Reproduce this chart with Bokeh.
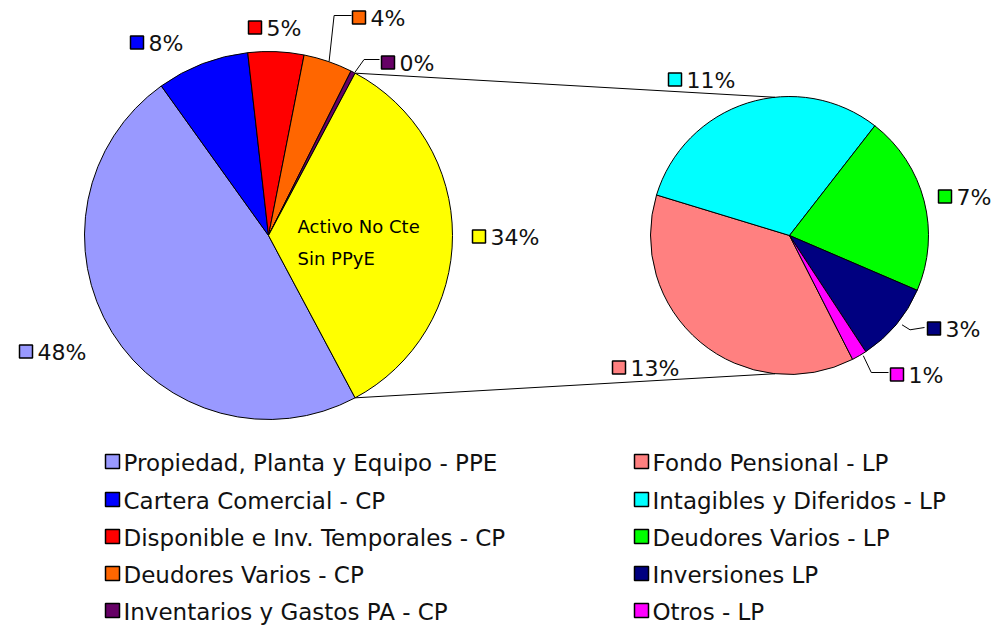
import numpy as np
from bokeh.plotting import figure
from bokeh.models import ColumnDataSource, Range1d
from bokeh.embed import file_html
from bokeh.resources import INLINE
from bokeh.core.properties import value

# ---------------- data ----------------
main_names = ["Propiedad, Planta y Equipo - PPE", "Cartera Comercial - CP",
              "Disponible e Inv. Temporales - CP", "Deudores Varios - CP",
              "Inventarios y Gastos PA - CP", "Activo No Cte Sin PPyE"]
main_values = [47.9, 8.1, 4.9, 4.3, 0.4, 34.4]
main_colors = ["#9999FF", "#0000FF", "#FF0000", "#FF6600", "#660066", "#FFFF00"]

sec_names = ["Fondo Pensional - LP", "Intagibles y Diferidos - LP",
             "Deudores Varios - LP", "Inversiones LP", "Otros - LP"]
sec_values = [12.8, 10.6, 7.2, 3.2, 0.6]
sec_colors = ["#FF8080", "#00FFFF", "#00FF00", "#000080", "#FF00FF"]

split_label = "Activo No Cte\nSin PPyE"

# ---------------- layout ----------------
W, H = 998, 627
def Y(py):  # picture y (down) -> data y (up)
    return H - py

C1 = (268, 235); R1 = 184
C2 = (789, 235); R2 = 139
SEC_START = np.deg2rad(297.0)   # rotation of the secondary pie
FONT = "DejaVu Sans"

p = figure(width=W, height=H, x_range=Range1d(0, W), y_range=Range1d(0, H),
           output_backend="svg", toolbar_location=None, min_border=0)
p.axis.visible = False
p.grid.visible = False
p.outline_line_color = None
p.background_fill_color = "white"

total = sum(main_values)
# main pie: split slice centred on the right, others clockwise from its lower edge
ang = [v / total * 2 * np.pi for v in main_values]
half = ang[-1] / 2
starts, ends = [], []
cur = -half
for a in ang[:-1]:
    ends.append(cur)
    starts.append(cur - a)
    cur -= a
starts.append(-half); ends.append(half)
src1 = ColumnDataSource(dict(start=starts, end=ends, color=main_colors))
p.wedge(x=C1[0], y=Y(C1[1]), radius=R1, start_angle="start", end_angle="end",
        fill_color="color", line_color="black", line_width=1, source=src1)

# secondary pie
stot = sum(sec_values)
sang = [v / stot * 2 * np.pi for v in sec_values]
s_starts, s_ends = [], []
cur = SEC_START
for a in sang:
    s_ends.append(cur)
    s_starts.append(cur - a)
    cur -= a
src2 = ColumnDataSource(dict(start=s_starts, end=s_ends, color=sec_colors))
p.wedge(x=C2[0], y=Y(C2[1]), radius=R2, start_angle="start", end_angle="end",
        fill_color="color", line_color="black", line_width=1, source=src2)

# connector lines
tx = C1[0] + R1 * np.cos(half); ty = Y(C1[1]) + R1 * np.sin(half)
bx = C1[0] + R1 * np.cos(-half); by = Y(C1[1]) + R1 * np.sin(-half)
t2 = np.deg2rad(96)
p.segment(x0=[tx, bx], y0=[ty, by],
          x1=[C2[0] + R2 * np.cos(t2), C2[0] + R2 * np.cos(-t2)],
          y1=[Y(C2[1]) + R2 * np.sin(t2), Y(C2[1]) + R2 * np.sin(-t2)],
          line_color="black", line_width=1)

# ---------------- data labels ----------------
def edge(center, r, a):
    return center[0] + r * np.cos(a), Y(center[1]) + r * np.sin(a)

main_mid = [(s + e) / 2 for s, e in zip(starts, ends)]
sec_mid = [(s + e) / 2 for s, e in zip(s_starts, s_ends)]

# label anchors: (square left x, centre y) in picture pixels
main_anchor = [(19, 351), (130, 42), (248, 27), (352, 17), (381, 62), (472, 236)]
sec_anchor = [(612, 367), (668, 79), (938, 196), (927, 328), (890, 374)]
SQ = 13

lab_x, lab_y, lab_t = [], [], []
q_l, q_r, q_t, q_b, q_c = [], [], [], [], []
for (sx, cy), v, col in zip(main_anchor + sec_anchor, main_values + sec_values,
                            main_colors + sec_colors):
    q_l.append(sx); q_r.append(sx + SQ); q_t.append(Y(cy - SQ / 2)); q_b.append(Y(cy + SQ / 2))
    q_c.append(col)
    lab_x.append(sx + SQ + 5); lab_y.append(Y(cy + 1)); lab_t.append(f"{round(v)}%")
p.quad(left=q_l, right=q_r, top=q_t, bottom=q_b, fill_color=q_c, line_color="black", line_width=1.5)
p.text(x=lab_x, y=lab_y, text=lab_t, text_font=value(FONT), text_font_size="22px",
       text_baseline="middle", text_align="left", text_color="#111111")

# leader lines for small slices
leaders_x, leaders_y = [], []
ex, ey = edge(C1, R1, main_mid[3]); sx, cy = main_anchor[3]
leaders_x.append([ex + 1, ex + 6, sx - 1]); leaders_y.append([ey, Y(cy - 2), Y(cy - 2)])
ex, ey = edge(C1, R1, main_mid[4]); sx, cy = main_anchor[4]
leaders_x.append([ex + 2, ex + 11, sx - 2]); leaders_y.append([ey, Y(cy - 3), Y(cy - 3)])
ex, ey = edge(C2, R2, sec_mid[3]); sx, cy = sec_anchor[3]
leaders_x.append([ex + 6, ex + 14, sx - 3]); leaders_y.append([ey, ey - 5, Y(cy - 1)])
ex, ey = edge(C2, R2, sec_mid[4]); sx, cy = sec_anchor[4]
leaders_x.append([ex + 4, ex + 12, sx - 2]); leaders_y.append([ey, Y(cy - 2), Y(cy - 2)])
p.multi_line(xs=leaders_x, ys=leaders_y, line_color="black", line_width=1)

# text inside the split slice
p.text(x=[297], y=[Y(242)], text=[split_label], text_font=value(FONT),
       text_font_size="18px", text_baseline="middle", text_align="left",
       text_line_height=1.5, text_color="black")

# ---------------- legend ----------------
rows_y = [461, 499, 536, 573, 610]
leg_sq = 14
lx, ly, lt = [], [], []
ql, qr, qt, qb, qc = [], [], [], [], []
for col_x, names, cols in [(105, main_names[:-1], main_colors[:-1]), (634, sec_names, sec_colors)]:
    for cy, nm, c in zip(rows_y, names, cols):
        ql.append(col_x); qr.append(col_x + leg_sq); qt.append(Y(cy - leg_sq / 2)); qb.append(Y(cy + leg_sq / 2))
        qc.append(c)
        lx.append(col_x + leg_sq + 4); ly.append(Y(cy + 1)); lt.append(nm)
p.quad(left=ql, right=qr, top=qt, bottom=qb, fill_color=qc, line_color="black", line_width=1.5)
p.text(x=lx, y=ly, text=lt, text_font=value(FONT), text_font_size="23px",
       text_baseline="middle", text_align="left", text_color="#111111")

open("out.html", "w").write(file_html(p, INLINE))
